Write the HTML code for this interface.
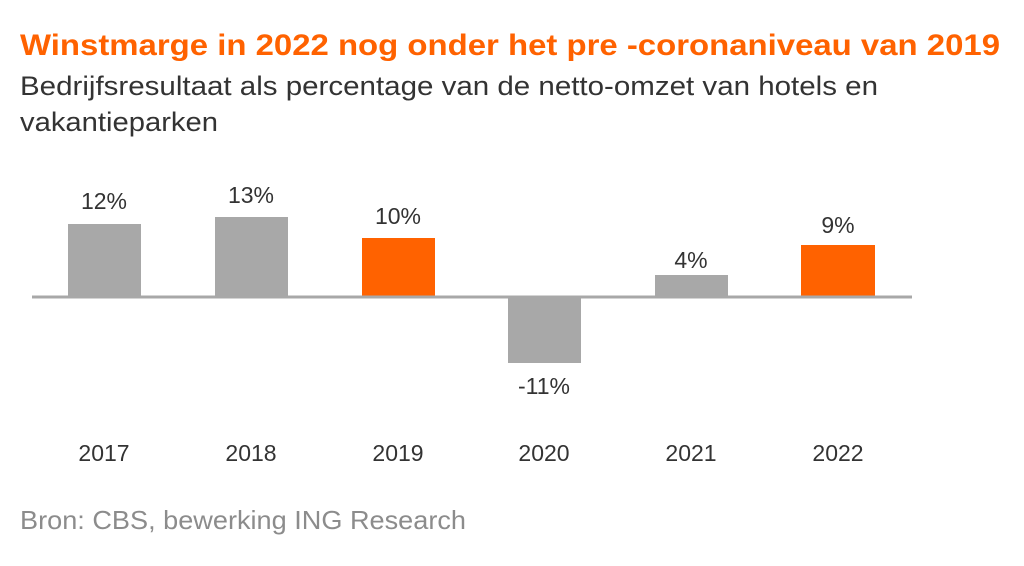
<!DOCTYPE html>
<html><head><meta charset="utf-8"><style>
html,body{margin:0;padding:0;background:#fff;width:1024px;height:566px;overflow:hidden;font-family:"Liberation Sans",sans-serif}
</style></head><body>
<svg width="1024" height="566" xmlns="http://www.w3.org/2000/svg" font-family="Liberation Sans, sans-serif">
<text x="20" y="55" font-size="30" font-weight="bold" fill="#ff6200" textLength="980" lengthAdjust="spacingAndGlyphs">Winstmarge in 2022 nog onder het pre -coronaniveau van 2019</text>
<text x="20" y="95" font-size="27" fill="#333" textLength="858" lengthAdjust="spacingAndGlyphs">Bedrijfsresultaat als percentage van de netto-omzet van hotels en</text>
<text x="20" y="131" font-size="27" fill="#333" textLength="198" lengthAdjust="spacingAndGlyphs">vakantieparken</text>
<rect x="68" y="224" width="73" height="73" fill="#a8a8a8"/>
<rect x="215" y="217" width="73" height="80" fill="#a8a8a8"/>
<rect x="362" y="238" width="73" height="59" fill="#ff6200"/>
<rect x="508" y="297" width="73" height="66" fill="#a8a8a8"/>
<rect x="655" y="275" width="73" height="22" fill="#a8a8a8"/>
<rect x="801" y="245" width="74" height="52" fill="#ff6200"/>
<line x1="32" y1="297" x2="912" y2="297" stroke="#a8a8a8" stroke-width="3"/>
<g font-size="23" fill="#333" text-anchor="middle">
<text x="104" y="209">12%</text>
<text x="251" y="203">13%</text>
<text x="398" y="224">10%</text>
<text x="544" y="394">-11%</text>
<text x="691" y="268">4%</text>
<text x="838" y="233">9%</text>
<text x="104" y="461">2017</text>
<text x="251" y="461">2018</text>
<text x="398" y="461">2019</text>
<text x="544" y="461">2020</text>
<text x="691" y="461">2021</text>
<text x="838" y="461">2022</text>
</g>
<text x="20" y="529" font-size="26" fill="#8c8c8c" textLength="446" lengthAdjust="spacingAndGlyphs">Bron: CBS, bewerking ING Research</text>
</svg>
</body></html>
